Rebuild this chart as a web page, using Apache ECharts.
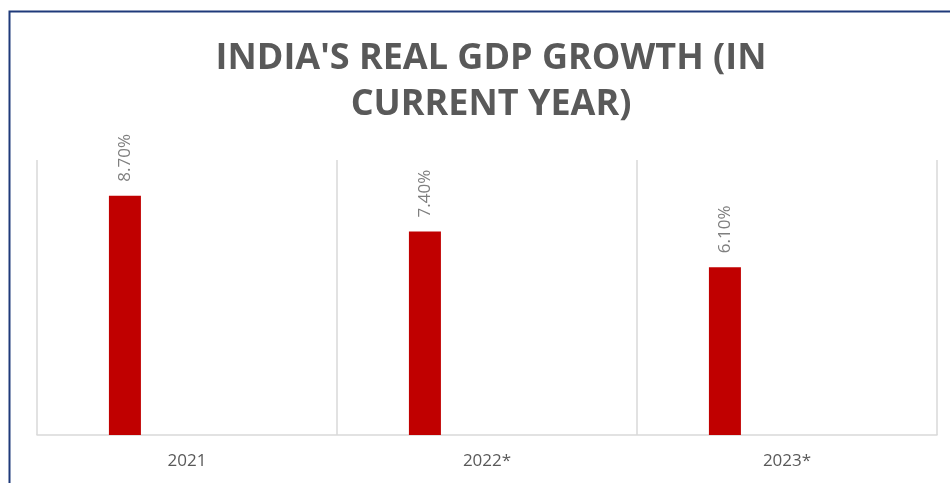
<!DOCTYPE html>
<html>
<head>
<meta charset="utf-8">
<script src="https://cdn.jsdelivr.net/npm/echarts@6/dist/echarts.min.js"></script>
<style>
html,body{margin:0;padding:0;background:#fff;}
#c{width:950px;height:483px;}
</style>
</head>
<body>
<div id="c"></div>
<script>
const categories = ['2021', '2022*', '2023*'];
const gdpGrowth = [8.7, 7.4, 6.1];
const emptySeries = ['-', '-', '-'];
const titleText = "INDIA'S REAL GDP GROWTH (IN\nCURRENT YEAR)";

const chart = echarts.init(document.getElementById('c'));
chart.setOption({
  animation: false,
  backgroundColor: '#ffffff',
  title: {
    text: titleText,
    left: 486,
    textAlign: 'center',
    top: 31,
    textStyle: {
      fontFamily: 'Open Sans',
      fontWeight: 'bold',
      fontSize: 36,
      lineHeight: 46,
      color: '#595959'
    }
  },
  graphic: [{
    type: 'rect',
    shape: { x: 9.5, y: 11.5, width: 1000, height: 600 },
    style: { fill: 'none', stroke: '#1f3a7a', lineWidth: 2 },
    silent: true
  }],
  grid: { left: 37, right: 13, top: 160, bottom: 48 },
  xAxis: {
    type: 'category',
    data: categories,
    axisLine: { lineStyle: { color: '#d9d9d9', width: 1.5 } },
    axisTick: { show: false },
    splitLine: { show: true, lineStyle: { color: '#d9d9d9', width: 1.5 } },
    axisLabel: {
      color: '#595959',
      fontFamily: 'Open Sans',
      fontSize: 17,
      margin: 18
    }
  },
  yAxis: {
    type: 'value',
    min: 0,
    max: 10,
    show: false,
    splitLine: { show: false }
  },
  series: [{
    type: 'bar',
    data: gdpGrowth,
    barWidth: 32,
    barGap: '288%',
    itemStyle: { color: '#c00000' },
    label: {
      show: true,
      position: 'top',
      rotate: 90,
      align: 'left',
      verticalAlign: 'middle',
      distance: 14,
      color: '#7f7f7f',
      fontFamily: 'Open Sans',
      fontSize: 17,
      formatter: p => p.value.toFixed(2) + '%'
    }
  }, {
    type: 'bar',
    data: emptySeries,
    barWidth: 32,
    itemStyle: { color: '#c00000' }
  }]
});
</script>
</body>
</html>
